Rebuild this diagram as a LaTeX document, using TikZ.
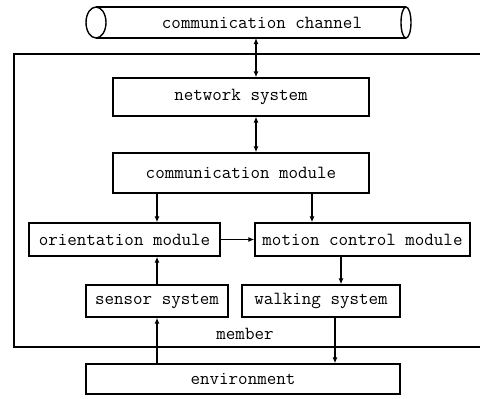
\documentclass[tikz,border=0pt]{standalone}
\usepackage{fontspec}
\usetikzlibrary{arrows.meta, positioning}

\tikzset{
  blk/.style={draw, line width=1.4pt, inner sep=0pt, anchor=center},
  conn/.style={line width=1.4pt, -{Latex[length=6pt,width=5pt]}},
  dconn/.style={line width=1.4pt, {Latex[length=6pt,width=5pt]}-{Latex[length=6pt,width=5pt]}}
}

\begin{document}
\begin{tikzpicture}[x=1pt, y=-1pt, font=\ttfamily\fontsize{18.5}{20}\selectfont]
  \useasboundingbox (0,0) rectangle (480,399);

  % channel tube
  \node (chan) at (262,22.5) {communication channel};
  \draw[line width=1.4pt] (96,7) -- (406,7) (96,38) -- (406,38);
  \draw[line width=1.4pt] (96,22.5) ellipse [x radius=10, y radius=15.5];
  \draw[line width=1.4pt] (406,22.5) ellipse [x radius=5, y radius=15.5];

  % member frame (open on the right)
  \draw[line width=1.4pt] (481,54) -- (14,54) -- (14,347) -- (481,347);
  \node (member) at (245,334) {member};

  % blocks
  \node[blk, minimum width=256, minimum height=38] (net) at (241,97) {network system};
  \node[blk, minimum width=256, minimum height=40] (comm) at (241,173) {communication module};
  \node[blk, minimum width=191, minimum height=33] (orient) at (124.5,239.5) {orientation module};
  \node[blk, minimum width=215, minimum height=33] (motion) at (362.5,239.5) {motion control module};
  \node[blk, minimum width=142, minimum height=32] (sensor) at (157,301) {sensor system};
  \node[blk, minimum width=158, minimum height=32] (walk) at (321,301) {walking system};
  \node[blk, minimum width=314, minimum height=30] (env) at (243,379) {environment};

  % connectors
  \draw[dconn] ([xshift=15pt]net.north |- 0,38) -- ([xshift=15pt]net.north);
  \draw[dconn] ([xshift=15pt]net.south) -- ([xshift=15pt]comm.north);
  \draw[conn] (comm.south -| sensor.north) -- (orient.north -| sensor.north);
  \draw[conn] ([xshift=71pt]comm.south) -- ([xshift=71pt]comm.south |- motion.north);
  \draw[conn] (orient.east) -- (motion.west);
  \draw[conn] ([xshift=20pt]walk.north |- motion.south) -- ([xshift=20pt]walk.north);
  \draw[conn] (sensor.north) -- (orient.south -| sensor.north);
  \draw[conn] (env.north -| sensor.south) -- (sensor.south);
  \draw[conn] ([xshift=14pt]walk.south) -- ([xshift=14pt]walk.south |- env.north);
\end{tikzpicture}
\end{document}
